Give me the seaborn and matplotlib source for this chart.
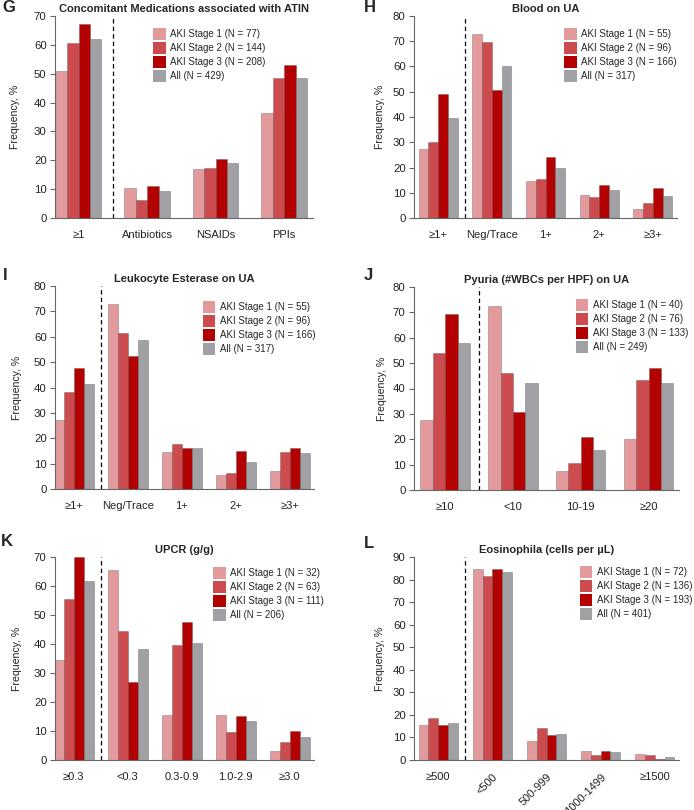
import pandas as pd
import seaborn as sns
import matplotlib.pyplot as plt

# series names and colours
groups = ["AKI Stage 1", "AKI Stage 2", "AKI Stage 3", "All"]
colors = ["#E39A9C", "#CC4B4E", "#B30000", "#A0A0A5"]

# G - concomitant medications
g_cats = ["≥1", "Antibiotics", "NSAIDs", "PPIs"]
g_n = [77, 144, 208, 429]
g_s1 = [50.8, 10.4, 16.9, 36.3]
g_s2 = [60.5, 6.3, 17.3, 48.6]
g_s3 = [67.4, 11.1, 20.6, 52.9]
g_all = [62.1, 9.4, 19.0, 48.5]

# H - blood on UA
h_cats = ["≥1+", "Neg/Trace", "1+", "2+", "≥3+"]
h_n = [55, 96, 166, 317]
h_s1 = [27.2, 72.8, 14.5, 9.0, 3.6]
h_s2 = [30.0, 69.9, 15.5, 8.3, 6.0]
h_s3 = [49.3, 50.7, 24.0, 13.0, 11.8]
h_all = [39.7, 60.3, 19.8, 10.9, 8.7]

# I - leukocyte esterase on UA
i_cats = ["≥1+", "Neg/Trace", "1+", "2+", "≥3+"]
i_n = [55, 96, 166, 317]
i_s1 = [27.1, 72.8, 14.6, 5.5, 7.2]
i_s2 = [38.4, 61.4, 17.7, 6.3, 14.6]
i_s3 = [47.5, 52.3, 16.1, 15.0, 16.1]
i_all = [41.3, 58.6, 16.3, 10.6, 14.3]

# J - pyuria
j_cats = ["≥10", "<10", "10-19", "≥20"]
j_n = [40, 76, 133, 249]
j_s1 = [27.4, 72.6, 7.4, 20.0]
j_s2 = [54.0, 46.0, 10.5, 43.4]
j_s3 = [69.2, 30.8, 21.0, 48.1]
j_all = [57.8, 42.2, 15.6, 42.2]

# K - UPCR
k_cats = ["≥0.3", "<0.3", "0.3-0.9", "1.0-2.9", "≥3.0"]
k_n = [32, 63, 111, 206]
k_s1 = [34.4, 65.6, 15.6, 15.6, 3.1]
k_s2 = [55.6, 44.4, 39.7, 9.5, 6.3]
k_s3 = [70.0, 27.0, 47.7, 15.3, 9.9]
k_all = [61.7, 38.3, 40.3, 13.6, 7.8]

# L - eosinophila
l_cats = ["≥500", "<500", "500-999", "1000-1499", "≥1500"]
l_n = [72, 136, 193, 401]
l_s1 = [15.3, 84.7, 8.3, 4.2, 2.8]
l_s2 = [18.4, 81.6, 14.0, 2.2, 2.2]
l_s3 = [15.5, 84.5, 10.9, 4.1, 0.5]
l_all = [16.5, 83.5, 11.5, 3.5, 1.5]

panels = [
    ("G", "Concomitant Medications associated with ATIN", g_cats, g_n,
     [g_s1, g_s2, g_s3, g_all], 70, 0.665, (-0.345, 3.42), (0.38, 0.94)),
    ("H", "Blood on UA", h_cats, h_n,
     [h_s1, h_s2, h_s3, h_all], 80, 0.73, (-0.45, 4.45), (0.57, 0.94)),
    ("I", "Leukocyte Esterase on UA", i_cats, i_n,
     [i_s1, i_s2, i_s3, i_all], 80, 0.74, (-0.35, 4.45), (0.57, 0.925)),
    ("J", "Pyuria (#WBCs per HPF) on UA", j_cats, j_n,
     [j_s1, j_s2, j_s3, j_all], 80, 0.73, (-0.46, 3.45), (0.61, 0.94)),
    ("K", "UPCR (g/g)", k_cats, k_n,
     [k_s1, k_s2, k_s3, k_all], 70, 0.74, (-0.35, 4.45), (0.61, 0.95)),
    ("L", "Eosinophila (cells per µL)", l_cats, l_n,
     [l_s1, l_s2, l_s3, l_all], 90, 0.73, (-0.45, 4.45), (0.625, 0.955)),
]

# axes rectangles in pixels: left, top, right, bottom
W, H = 694, 810
boxes = [
    (55, 16, 313, 218), (414, 16, 677, 218),
    (55, 286, 314, 489), (414, 287, 679, 490),
    (55, 557, 314, 760), (414, 557, 679, 760),
]
# panel letter positions (px) and y-label offset from spine (px)
letter_xy = [(2, 8), (364, 8), (3, 275), (364, 275), (1, 541), (364, 544)]
ylab_off = [35, 29, 33, 27, 33, 29]

sns.set_style("white")
plt.rcParams["font.family"] = ["Liberation Sans", "DejaVu Sans"]

fig = plt.figure(figsize=(W / 100, H / 100), dpi=100)

for idx, (letter, title, cats, ns, series, ytop, bw, xl, lpos) in enumerate(panels):
    l, t, r, b = boxes[idx]
    ax = fig.add_axes([l / W, 1 - b / H, (r - l) / W, (b - t) / H])
    labels = [f"{g} (N = {n})" for g, n in zip(groups, ns)]
    rows = []
    for lab, vals in zip(labels, series):
        for c, v in zip(cats, vals):
            rows.append({"category": c, "group": lab, "value": v})
    df = pd.DataFrame(rows)
    sns.barplot(data=df, x="category", y="value", hue="group", order=cats,
                hue_order=labels, palette=colors, width=bw, saturation=1,
                edgecolor=(0.25, 0.25, 0.25, 0.35), linewidth=0.6, ax=ax)
    ax.axvline(0.5, color="black", linestyle=(0, (3.5, 2.5)), linewidth=0.9)
    ax.set_xlim(*xl)
    ax.set_ylim(0, ytop)
    ax.set_yticks(range(0, ytop + 1, 10))
    ax.set_xlabel("")
    ax.set_ylabel("Frequency, %", fontsize=7.6, color="#222222")
    ax.yaxis.set_label_coords(-ylab_off[idx] / (r - l), 0.5)
    ax.set_title(title, fontsize=8, fontweight="bold", pad=3)
    for s in ["top", "right"]:
        ax.spines[s].set_visible(False)
    for s in ["left", "bottom"]:
        ax.spines[s].set_color("#666666")
        ax.spines[s].set_linewidth(0.8)
    ax.tick_params(axis="y", left=True, length=3.5, width=0.8, color="#666666",
                   labelsize=8.2, labelcolor="#222222", pad=2.5)
    ax.tick_params(axis="x", bottom=False, labelsize=8, labelcolor="#222222", pad=5)
    if letter == "L":
        for k, tl in enumerate(ax.get_xticklabels()):
            if k in (1, 2, 3):
                tl.set_rotation(45)
                tl.set_ha("right")
                tl.set_va("top")
                tl.set_rotation_mode("anchor")
    leg = ax.legend(loc="upper left", bbox_to_anchor=lpos, frameon=False,
                    fontsize=7, borderpad=0, borderaxespad=0,
                    handlelength=1.3, handleheight=1.52, labelspacing=0.2,
                    handletextpad=0.45)
    for p in leg.get_patches():
        p.set_edgecolor("none")
    lx, ly = letter_xy[idx]
    fig.text(lx / W, 1 - ly / H, letter,
             fontsize=12, fontweight="bold", ha="left", va="center")

fig.savefig("out.png", dpi=100)
